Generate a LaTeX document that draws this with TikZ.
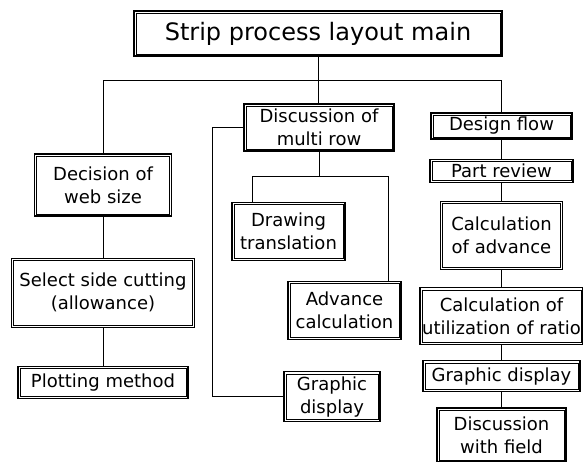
\documentclass[tikz,border=0pt]{standalone}
\usepackage{fontspec}
\setmainfont{DejaVu Sans}
\usetikzlibrary{positioning}

\tikzset{
  block/.style={draw, line width=1.2pt, align=center, inner sep=2pt,
    font=\fontsize{18}{23}\selectfont,
    path picture={\draw[line width=0.5pt]
      ([shift={(2.2pt,-2.2pt)}]path picture bounding box.north west) rectangle
      ([shift={(-2.2pt,2.2pt)}]path picture bounding box.south east);}},
  wire/.style={line width=0.7pt},
}

\begin{document}
\begin{tikzpicture}[x=1pt, y=-1pt]
  \useasboundingbox (0,0) rectangle (583,462);

  % Define nodes
  \node[block, font=\fontsize{24}{28}\selectfont,
        minimum width=368pt, minimum height=45pt] (main) at (318,33.5) {Strip process layout main};

  % left column
  \node[block, minimum width=137pt, minimum height=62pt] (web) at (103,185) {Decision of\\web size};
  \node[block, below=41pt of web, minimum width=183pt, minimum height=69pt] (side) {Select side cutting\\(allowance)};
  \node[block, below=38pt of side, minimum width=170pt, minimum height=32pt] (plot) {Plotting method};

  % middle column
  \node[block, minimum width=150pt, minimum height=47pt] (multi) at (319,127.5) {Discussion of\\multi row};
  \node[block, below=50pt of multi, xshift=-30.5pt, minimum width=113pt, minimum height=58pt] (trans) {Drawing\\translation};
  \node[block, below=20pt of trans, xshift=56pt, minimum width=113pt, minimum height=58pt] (adv) {Advance\\calculation};
  \node[block, below=31pt of adv, xshift=-12.5pt, minimum width=96pt, minimum height=50pt] (gmid) {Graphic\\display};

  % right column
  \node[block, minimum width=141pt, minimum height=26pt] (flow) at (501.5,126) {Design flow};
  \node[block, below=19pt of flow, minimum width=143pt, minimum height=23pt] (part) {Part review};
  \node[block, below=18pt of part, minimum width=122pt, minimum height=68pt] (cadv) {Calculation\\of advance};
  \node[block, below=17pt of cadv, minimum width=163pt, minimum height=57pt] (util) {Calculation of\\utilization of ratio};
  \node[block, below=15pt of util, minimum width=157pt, minimum height=31pt] (gdisp) {Graphic display};
  \node[block, below=15pt of gdisp, minimum width=129pt, minimum height=54pt] (field) {Discussion\\with field};

  % Connect the nodes
  \coordinate (bus) at (318,80);
  \draw[wire] (main.south) -- (main.south |- multi.north);
  \draw[wire] (bus) -| (web.north);
  \draw[wire] (bus) -| (flow.north);
  \draw[wire] (web) -- (side) -- (plot);

  \coordinate[below=25pt of multi] (split);
  \draw[wire] (multi) -- (split);
  \draw[wire] ([xshift=21pt]trans.north west) |- (split) -| ([xshift=-13pt]adv.north east);
  \draw[wire] (multi.west) -- ++(-31,0) |- (gmid.west);

  \draw[wire] (flow) -- (part) -- (cadv) -- (util) -- (gdisp) -- (field);

\end{tikzpicture}
\end{document}
